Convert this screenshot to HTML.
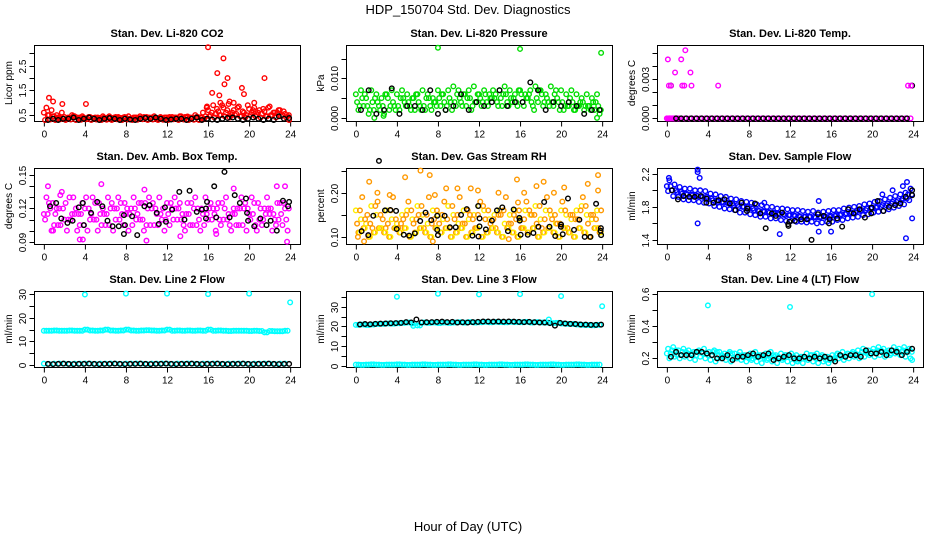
<!DOCTYPE html>
<html><head><meta charset="utf-8">
<style>
html,body{margin:0;padding:0;background:#fff;}
svg{display:block;font-family:"Liberation Sans",Arial,sans-serif;}
</style></head>
<body>
<svg id="chart" width="936" height="540" viewBox="0 0 936 540" xmlns="http://www.w3.org/2000/svg">
<rect x="0" y="0" width="936" height="540" fill="#fff"/>
<text x="468" y="14" font-size="13" text-anchor="middle">HDP_150704  Std. Dev. Diagnostics</text>
<text x="468" y="531" font-size="13" text-anchor="middle">Hour of Day (UTC)</text>
<g id="panels"></g>
</svg>
<script>
// ---------- data ----------
const co2RedA=[0.6,0.5,0.45,0.4,0.42,0.38,0.45,0.4,0.37,0.42,0.4,0.38,0.36,0.4,0.42,0.38,0.4,0.36,0.4,0.38,0.42,0.4,0.36,0.38,0.4,0.42,0.38,0.4,0.44,0.4,0.42,0.6,0.7,0.9,0.65,0.8,0.95,0.7,0.85,0.6,0.75,0.8,0.7,0.65,0.85,0.6,0.7,0.55];
const co2RedB=[0.8,0.7,0.5,0.6,0.35,0.5,0.4,0.45,0.35,0.38,0.4,0.45,0.4,0.35,0.42,0.4,0.45,0.4,0.38,0.42,0.4,0.45,0.38,0.4,0.42,0.4,0.45,0.42,0.4,0.5,0.4,0.45,0.5,0.55,0.5,0.6,0.5,0.55,0.45,0.5,0.6,0.5,0.55,0.45,0.5,0.6,0.5,0.45];
const co2RedC=[0.3,0.32,0.3,0.33,0.3,0.32,0.3,0.31,0.33,0.3,0.32,0.3,0.31,0.3,0.33,0.3,0.32,0.3,0.31,0.33,0.3,0.32,0.3,0.31,0.3,0.33,0.3,0.32,0.3,0.31,0.3,0.35,0.45,0.4,0.5,0.45,0.4,0.5,0.45,0.4,0.5,0.45,0.4,0.45,0.5,0.4,0.45,0.4];
const co2RedD=[0.5,0.45,0.4,0.35,0.4,0.45,0.35,0.4,0.42,0.38,0.35,0.4,0.45,0.4,0.38,0.42,0.35,0.4,0.45,0.4,0.35,0.38,0.42,0.4,0.35,0.4,0.45,0.4,0.38,0.42,0.4,0.8,0.6,0.75,0.9,0.7,0.6,0.8,0.65,0.9,0.7,0.6,0.75,0.8,0.6,0.7,0.65,0.5];
const co2OutHours=[0.5,0.9,1.8,4.1,15.9,16,16.4,16.9,17.1,17.5,17.6,17.9,18.5,19.3,19.5,21.5,20.5,17.2,18.1,23.9];
const co2OutVals=[1.2,1.05,0.95,0.95,0.85,3.25,1.4,2.2,1.3,2.8,1.75,2.0,1.0,1.6,1.35,2.0,1.0,1.0,1.05,0.3];
const co2Black=[0.3,0.35,0.3,0.35,0.35,0.4,0.3,0.35,0.4,0.35,0.3,0.35,0.38,0.35,0.3,0.35,0.32,0.3,0.35,0.38,0.35,0.4,0.35,0.3,0.32,0.35,0.35,0.3,0.35,0.4,0.3,0.35,0.32,0.3,0.35,0.38,0.4,0.35,0.3,0.35,0.4,0.35,0.3,0.35,0.3,0.45,0.35,0.38];
const presGreenA=[0.006,0.007,0.005,0.007,0.006,0.005,0.006,0.007,0.006,0.007,0.006,0.005,0.006,0.007,0.006,0.005,0.007,0.006,0.007,0.008,0.007,0.006,0.007,0.008,0.006,0.007,0.006,0.005,0.007,0.008,0.007,0.006,0.007,0.006,0.007,0.008,0.007,0.006,0.008,0.007,0.007,0.006,0.007,0.006,0.005,0.006,0.005,0.006];
const presGreenB=[0.002,0.003,0.001,0.002,0.003,0.001,0.002,0.003,0.002,0.004,0.003,0.002,0.003,0.002,0.003,0.004,0.003,0.002,0.004,0.003,0.004,0.003,0.002,0.004,0.003,0.004,0.005,0.004,0.003,0.004,0.004,0.003,0.004,0.005,0.003,0.004,0.003,0.004,0.003,0.004,0.002,0.003,0.002,0.003,0.002,0.003,0.002,0.001];
const presGreenC=[0.004,0.005,0.003,0.004,0.004,0.003,0.005,0.004,0.003,0.005,0.004,0.005,0.004,0.003,0.005,0.004,0.005,0.004,0.005,0.004,0.005,0.006,0.005,0.004,0.005,0.006,0.005,0.006,0.005,0.006,0.005,0.004,0.006,0.005,0.004,0.005,0.006,0.005,0.004,0.005,0.004,0.003,0.004,0.003,0.004,0.003,0.004,0.003];
const presGreenD=[0.003,0.006,0.002,0.005,0.002,0.006,0.003,0.002,0.005,0.003,0.002,0.006,0.002,0.005,0.002,0.003,0.006,0.003,0.002,0.006,0.003,0.005,0.003,0.006,0.004,0.003,0.007,0.003,0.006,0.003,0.005,0.007,0.003,0.006,0.002,0.007,0.004,0.003,0.006,0.002,0.003,0.005,0.002,0.004,0.003,0.002,0.004,0.002];
const presOutHours=[8,16,23.9,23.5,1.8,2.7];
const presOutVals=[0.0178,0.0175,0.0165,0.0,0.0,0.0005];
const presBlack=[0.002,0.007,0.001,0.002,0.0075,0.001,0.003,0.003,0.002,0.007,0.001,0.002,0.003,0.006,0.002,0.004,0.003,0.004,0.007,0.003,0.004,0.004,0.009,0.007,0.002,0.004,0.003,0.004,0.003,0.001,0.002,0.002];
const tempMagHours=[0.1,0.2,0.4,0.8,1.4,1.5,1.7,1.8,2.3,2.4,5.0,23.5,23.8];
const tempMagVals=[0.0045,0.0025,0.0025,0.0035,0.0045,0.0025,0.0025,0.0052,0.0035,0.0025,0.0025,0.0025,0.0025];
const tempMagZero=[0,0,0,0,0,0,0,0,0,0];
const tempBlack=[0.0025,0,0,0,0,0,0,0,0,0,0,0,0,0,0,0,0,0,0,0,0,0,0,0,0,0,0,0,0,0,0,0,0,0,0,0,0,0,0,0,0,0,0,0,0,0,0,0.0025];
const ambMagA=[0.115,0.125,0.105,0.12,0.11,0.13,0.115,0.105,0.12,0.11,0.125,0.115,0.105,0.12,0.11,0.125,0.115,0.12,0.11,0.125,0.105,0.12,0.115,0.11,0.125,0.12,0.11,0.115,0.125,0.105,0.12,0.115,0.11,0.12,0.125,0.11,0.115,0.12,0.105,0.12,0.115,0.125,0.11,0.12,0.115,0.11,0.125,0.12];
const ambMagB=[0.13,0.1,0.12,0.135,0.1,0.115,0.1,0.125,0.1,0.13,0.1,0.12,0.13,0.1,0.13,0.105,0.1,0.13,0.125,0.1,0.13,0.105,0.13,0.1,0.105,0.13,0.125,0.1,0.105,0.13,0.1,0.13,0.125,0.1,0.105,0.13,0.1,0.105,0.13,0.1,0.13,0.1,0.105,0.13,0.1,0.125,0.105,0.1];
const ambMagC=[0.11,0.12,0.115,0.105,0.125,0.11,0.12,0.115,0.13,0.115,0.11,0.105,0.115,0.125,0.12,0.115,0.12,0.105,0.115,0.11,0.12,0.125,0.105,0.12,0.115,0.11,0.12,0.105,0.115,0.12,0.11,0.105,0.12,0.115,0.11,0.12,0.105,0.115,0.12,0.125,0.11,0.105,0.12,0.115,0.12,0.105,0.115,0.11];
const ambOutHours=[0.4,5.6,1.6,3.5,3.8,10,13.3,16.8,22.7,23.5,23.7,18.5,0.9,9.8];
const ambOutVals=[0.14,0.142,0.132,0.092,0.092,0.091,0.095,0.097,0.14,0.14,0.09,0.138,0.1,0.137];
const ambBlackHours=[0.6,1.2,1.7,2.3,2.8,3.4,3.8,3.9,4.6,5.2,5.7,6.2,6.7,7.3,7.8,7.9,7.8,8.6,9.1,9.8,10.3,11,11.2,11.9,11.8,12.5,13.2,13.7,14.2,14.9,15.4,15.8,15.8,15.9,16.6,16.8,17.6,18.1,18.6,19.1,19.7,19.8,19.9,20.5,21.1,21.7,22.1,22.7,23.3,23.8,23.9];
const ambBlackVals=[0.122,0.125,0.111,0.107,0.109,0.121,0.125,0.105,0.116,0.126,0.122,0.109,0.104,0.104,0.114,0.105,0.097,0.113,0.096,0.122,0.123,0.116,0.106,0.108,0.121,0.119,0.135,0.11,0.136,0.117,0.119,0.12,0.111,0.126,0.14,0.112,0.153,0.112,0.132,0.125,0.129,0.116,0.109,0.104,0.111,0.105,0.109,0.1,0.127,0.122,0.126];
const rhOrgA=[0.16,0.14,0.13,0.17,0.15,0.12,0.16,0.14,0.13,0.15,0.16,0.14,0.17,0.15,0.13,0.16,0.15,0.14,0.17,0.15,0.13,0.16,0.14,0.15,0.17,0.16,0.14,0.15,0.16,0.13,0.15,0.16,0.14,0.16,0.15,0.17,0.14,0.16,0.15,0.13,0.16,0.15,0.14,0.16,0.17,0.15,0.14,0.16];
const rhOrgB=[0.11,0.12,0.1,0.11,0.12,0.11,0.1,0.12,0.11,0.12,0.1,0.11,0.12,0.11,0.1,0.12,0.11,0.12,0.1,0.11,0.12,0.1,0.11,0.12,0.1,0.11,0.12,0.11,0.1,0.12,0.11,0.1,0.12,0.11,0.12,0.1,0.11,0.12,0.11,0.1,0.12,0.11,0.1,0.12,0.11,0.1,0.12,0.11];
const rhOrgC=[0.13,0.19,0.15,0.12,0.18,0.14,0.13,0.19,0.12,0.14,0.18,0.13,0.15,0.12,0.19,0.14,0.13,0.18,0.12,0.14,0.19,0.13,0.15,0.12,0.18,0.14,0.13,0.12,0.15,0.19,0.13,0.14,0.12,0.18,0.15,0.13,0.12,0.19,0.14,0.13,0.18,0.12,0.15,0.14,0.19,0.13,0.15,0.12];
const rhOutHours=[1.3,2.1,3.3,4.8,6.3,7.2,7.7,8.8,9.9,11.2,11.9,13.9,14.9,15.7,15.8,16.4,17.6,18.3,19.3,20.3,22.6,23.6,23.6,0.2,7.5,0.8];
const rhOutVals=[0.225,0.2,0.195,0.235,0.25,0.24,0.195,0.21,0.21,0.21,0.205,0.2,0.095,0.23,0.178,0.2,0.215,0.225,0.2,0.212,0.22,0.24,0.205,0.1,0.09,0.09];
const rhBlackHours=[0.56,1.21,1.7,2.25,2.84,3.36,3.92,3.98,4.67,5.19,5.75,6.27,6.79,7.35,7.93,7.93,8.0,8.65,9.17,9.73,10.25,10.81,11.36,11.92,11.95,12.05,12.05,12.67,13.26,13.75,14.27,14.82,15.38,15.93,15.97,16.06,16.75,17.3,17.79,18.35,18.87,19.43,19.98,20.0,20.16,20.67,21.26,21.78,22.3,22.86,23.41,23.85,23.88,23.9];
const rhBlackVals=[0.113,0.104,0.148,0.272,0.16,0.161,0.159,0.118,0.105,0.103,0.108,0.136,0.155,0.138,0.116,0.148,0.104,0.148,0.122,0.122,0.15,0.163,0.103,0.17,0.101,0.142,0.124,0.117,0.137,0.16,0.167,0.113,0.162,0.143,0.137,0.105,0.105,0.109,0.123,0.179,0.123,0.102,0.123,0.128,0.106,0.187,0.116,0.139,0.1,0.1,0.175,0.114,0.12,0.104];
const sfBlueA=[2.05,2.0,1.98,1.96,1.95,1.94,1.93,1.92,1.9,1.88,1.86,1.85,1.84,1.82,1.8,1.8,1.78,1.76,1.75,1.74,1.73,1.72,1.71,1.7,1.7,1.69,1.68,1.68,1.68,1.67,1.68,1.68,1.69,1.7,1.71,1.72,1.73,1.75,1.76,1.78,1.79,1.8,1.82,1.84,1.86,1.88,1.9,1.95];
const sfBlueB=[2.12,2.07,2.04,2.02,2.02,2.0,2.0,1.99,1.96,1.95,1.93,1.92,1.9,1.89,1.87,1.86,1.85,1.83,1.82,1.8,1.8,1.78,1.78,1.77,1.76,1.76,1.75,1.74,1.75,1.73,1.74,1.75,1.76,1.76,1.78,1.79,1.8,1.81,1.83,1.84,1.86,1.87,1.89,1.91,1.93,1.95,1.97,2.02];
const sfBlueC=[1.99,1.93,1.92,1.89,1.88,1.88,1.86,1.85,1.84,1.81,1.8,1.78,1.77,1.76,1.73,1.73,1.71,1.7,1.68,1.68,1.66,1.66,1.64,1.63,1.63,1.62,1.62,1.61,1.62,1.6,1.61,1.62,1.62,1.64,1.64,1.66,1.67,1.68,1.7,1.71,1.73,1.74,1.75,1.77,1.79,1.81,1.83,1.88];
const sfOutHours=[3.0,3.0,3.2,3.0,9.5,11,14.8,14.8,16,21,22,23,23.4,23.3,23.9,0.2];
const sfOutVals=[2.25,2.22,2.15,1.6,1.85,1.47,1.5,1.87,1.5,1.95,2.0,2.05,2.1,1.42,1.66,2.15];
const sfBlackHours=[0.49,1.08,1.63,2.19,2.71,3.3,3.85,3.85,4.54,5.03,5.62,6.14,6.69,7.28,7.8,7.84,8.59,9.11,9.63,10.22,10.61,11.23,11.82,11.85,11.95,12.47,13.09,13.65,14.1,14.72,15.28,15.8,15.87,16.59,17.08,17.67,18.19,18.78,19.3,19.92,19.95,20.54,21.09,21.65,22.24,22.76,23.28,23.9,23.9];
const sfBlackVals=[2.0,1.89,1.93,1.92,1.92,1.93,1.9,1.85,1.85,1.88,1.89,1.84,1.76,1.85,1.75,1.78,1.84,1.72,1.54,1.72,1.69,1.73,1.59,1.57,1.62,1.63,1.65,1.65,1.4,1.71,1.69,1.6,1.65,1.66,1.56,1.77,1.72,1.77,1.67,1.72,1.79,1.87,1.75,1.8,1.82,1.84,1.92,2.0,1.94];
const l2CyanHigh=[14.5,14.5,14.6,14.5,14.5,14.6,14.5,14.5,15,14.6,14.5,14.6,15,14.6,14.5,14.6,15,14.6,14.5,14.6,14.7,14.6,14.5,14.6,15,14.5,14.6,14.5,14.6,14.5,14.6,14.5,15,14.5,14.6,14.5,14.4,14.5,14.5,14.5,14.4,14.5,14.4,13.8,14.4,14.3,14.3,14.5];
const l2CyanLow=[0.6,0.5,0.6,0.7,0.6,0.5,0.6,0.6,0.7,0.6,0.5,0.6,0.6,0.7,0.6,0.5,0.6,0.6,0.7,0.6,0.5,0.6,0.6,0.7,0.6,0.5,0.6,0.6,0.7,0.6,0.5,0.6,0.6,0.7,0.6,0.5,0.6,0.6,0.7,0.6,0.5,0.6,0.6,0.7,0.6,0.5,0.6,0.6];
const l2Black=[0.5,0.4,0.5,0.6,0.5,0.4,0.5,0.5,0.6,0.5,0.4,0.5,0.5,0.6,0.5,0.4,0.5,0.5,0.6,0.5,0.4,0.5,0.5,0.6,0.5,0.4,0.5,0.5,0.6,0.5,0.4,0.5,0.5,0.6,0.5,0.4,0.5,0.5,0.6,0.5,0.4,0.5,0.5,0.6,0.5,0.4,0.5,0.5];
const l2OutHours=[4,8,12,16,20,24];
const l2OutVals=[29.8,30.2,30.2,30,30.2,26.5];
const l3CyanHigh=[20.8,21,20.7,21,21.2,21.3,21.5,21.4,21.6,21.8,22,21.5,20.5,22,21.8,22,21.7,22,21.8,22,22.1,21.9,22.2,22,22.1,22.3,22.1,22.3,22.2,22.1,22.3,22.2,22.1,22.3,22,22.2,22,21.9,21.7,21.8,21.5,21.3,21.2,21,20.8,20.7,20.6,20.8];
const l3CyanLow=[0.7,0.6,0.7,0.8,0.7,0.6,0.7,0.7,0.8,0.7,0.6,0.7,0.7,0.8,0.7,0.6,0.7,0.7,0.8,0.7,0.6,0.7,0.7,0.8,0.7,0.6,0.7,0.7,0.8,0.7,0.6,0.7,0.7,0.8,0.7,0.6,0.7,0.7,0.8,0.7,0.6,0.7,0.7,0.8,0.7,0.6,0.7,0.7];
const l3Black=[21,21.2,21.1,21.3,21.4,21.5,21.6,21.7,21.8,22.2,22,23.5,22,22.1,22.2,22.3,22.4,22.2,22.3,22,22.1,22,22.2,22.3,22.5,22.5,22.4,22.5,22.4,22.5,22.4,22.3,22.2,22.3,22.1,22,22,21.7,20.4,21.8,21.5,21.3,21.2,21,20.9,20.8,20.8,20.9];
const l3OutHours=[4,8,12,16,20,24,18.8,5.6];
const l3OutVals=[35,36.5,36.2,36.3,35.3,30.2,23.5,20.3];
const l4CyanA=[0.23,0.25,0.22,0.24,0.23,0.22,0.24,0.23,0.22,0.24,0.22,0.21,0.23,0.2,0.22,0.21,0.2,0.22,0.21,0.2,0.22,0.21,0.2,0.22,0.21,0.19,0.21,0.2,0.22,0.2,0.21,0.19,0.2,0.22,0.21,0.22,0.23,0.22,0.24,0.23,0.24,0.25,0.24,0.23,0.25,0.24,0.25,0.24];
const l4CyanB=[0.2,0.21,0.2,0.21,0.2,0.19,0.21,0.2,0.19,0.18,0.2,0.19,0.18,0.2,0.19,0.18,0.19,0.18,0.17,0.19,0.18,0.17,0.19,0.18,0.17,0.18,0.17,0.19,0.18,0.17,0.18,0.17,0.19,0.2,0.19,0.2,0.21,0.2,0.21,0.22,0.21,0.22,0.21,0.22,0.23,0.22,0.21,0.2];
const l4CyanC=[0.26,0.27,0.25,0.26,0.25,0.24,0.25,0.26,0.24,0.25,0.24,0.23,0.24,0.23,0.24,0.22,0.23,0.24,0.22,0.23,0.24,0.22,0.23,0.22,0.23,0.22,0.21,0.23,0.22,0.23,0.22,0.21,0.22,0.23,0.24,0.23,0.24,0.25,0.26,0.25,0.26,0.27,0.26,0.25,0.27,0.26,0.27,0.26];
const l4Black=[0.21,0.24,0.22,0.22,0.22,0.24,0.24,0.23,0.22,0.2,0.2,0.22,0.19,0.21,0.21,0.22,0.23,0.21,0.22,0.23,0.19,0.2,0.21,0.22,0.2,0.2,0.21,0.2,0.21,0.2,0.21,0.2,0.18,0.22,0.21,0.22,0.22,0.21,0.25,0.23,0.23,0.24,0.22,0.25,0.24,0.22,0.24,0.26];
const l4OutHours=[4,12,20,23.9];
const l4OutVals=[0.53,0.52,0.6,0.19];
const hourTicks=[0,4,8,12,16,20,24];
const co2Ticks=[0.5,1,1.5,2,2.5,3], co2Labels=["0.5","","1.5","","2.5",""];
const presTicks=[0,0.005,0.01,0.015], presLabels=["0.000","","0.010",""];
const tempTicks=[0,0.001,0.002,0.003,0.004,0.005], tempLabels=["0.000","","","0.003","",""];
const ambTicks=[0.09,0.1,0.11,0.12,0.13,0.14,0.15], ambLabels=["0.09","","","0.12","","","0.15"];
const rhTicks=[0.1,0.15,0.2,0.25], rhLabels=["0.10","","0.20",""];
const sfTicks=[1.4,1.6,1.8,2.0,2.2], sfLabels=["1.4","","1.8","","2.2"];
const l2Ticks=[0,5,10,15,20,25,30], l2Labels=["0","","10","","20","","30"];
const l3Ticks=[0,5,10,15,20,25,30,35], l3Labels=["0","","10","","20","","30",""];
const l4Ticks=[0.2,0.3,0.4,0.5,0.6], l4Labels=["0.2","","0.4","","0.6"];

// ---------- drawing ----------
const NS="http://www.w3.org/2000/svg";
const root=document.getElementById('panels');
function mk(tag,attrs,parent){const e=document.createElementNS(NS,tag);for(const k in attrs)e.setAttribute(k,attrs[k]);parent.appendChild(e);return e;}
const colX=[34,346,657], rowY=[45,168,291];
const W=266, H=76;
function panel(col,row,title,ylab,yMin,yMax,ticks,labels,name){
  const g=mk('g',{},root);
  
  
  const L=colX[col],T=rowY[row];
  const xs=h=>L+(h+0.96)/25.92*W;
  const ys=v=>T+H-(v-yMin)/(yMax-yMin)*H;
  const box=mk('rect',{x:L+.5,y:T+.5,width:W,height:H,fill:'none',stroke:'#000','stroke-width':1},g);
  
  
  const t=mk('text',{x:L+W/2,y:T-8,'font-size':11,'font-weight':'bold','text-anchor':'middle'},g);
  t.textContent=title;
  
  
  const yl=mk('text',{x:0,y:0,'font-size':10,'text-anchor':'middle',transform:`translate(${L-22},${T+H/2}) rotate(-90)`},g);
  yl.textContent=ylab;
  
  
  const xa=mk('g',{},g);
  
  
  const by=T+H+0.5;
  mk('line',{x1:xs(hourTicks[0]),x2:xs(hourTicks[hourTicks.length-1]),y1:by,y2:by,stroke:'#000'},xa);
  hourTicks.forEach(h=>{
    mk('line',{x1:xs(h)+.5,x2:xs(h)+.5,y1:by,y2:by+5,stroke:'#000'},xa);
    const tl=mk('text',{x:xs(h)+.5,y:by+16,'font-size':10,'text-anchor':'middle'},xa);
    tl.textContent=h;
  });
  const ya=mk('g',{},g);
  
  
  mk('line',{x1:L+.5,x2:L+.5,y1:ys(ticks[0]),y2:ys(ticks[ticks.length-1]),stroke:'#000'},ya);
  ticks.forEach((v,i)=>{
    const y=Math.round(ys(v))+.5;
    mk('line',{x1:L-4.5,x2:L+.5,y1:y,y2:y,stroke:'#000'},ya);
    if(labels[i]){
      const tl=mk('text',{x:0,y:0,'font-size':10,'text-anchor':'middle',transform:`translate(${L-8},${y}) rotate(-90)`},ya);
      tl.textContent=labels[i];
    }
  });
  const pts=mk('g',{fill:'none','stroke-width':1.4},g);
  
  
  return {
    pts:(hours,vals,color,series)=>{
      const s=mk('g',{stroke:color},pts);
      
      
      vals.forEach((v,i)=>{
        const c=mk('circle',{cx:xs(hours[i]),cy:ys(v),r:2.3},s);
        
        
      });
    }
  };
}
function evenHours(n,start,step){const a=[];for(let i=0;i<n;i++)a.push(start+i*step);return a;}
const hA=evenHours(48,0,0.5), hB=evenHours(48,0.25,0.5), hC=evenHours(48,0.12,0.5), hD=evenHours(48,0.37,0.5), hK=evenHours(48,0.4,0.5);

const RED='#ff0000',GREEN='#00dd00',MAG='#ff00ff',ORG='#ff9900',YEL='#ffee00',BLUE='#0000ff',CYAN='#00ffff',BLK='#000';

let p=panel(0,0,'Stan. Dev. Li-820 CO2','Licor ppm',0.26,3.34,co2Ticks,co2Labels,'co2');
p.pts(hA,co2RedA,RED,'red-a');p.pts(hB,co2RedB,RED,'red-b');p.pts(hC,co2RedC,RED,'red-c');p.pts(hD,co2RedD,RED,'red-d');p.pts(co2OutHours,co2OutVals,RED,'red-outliers');
p.pts(hK,co2Black,BLK,'black');

p=panel(1,0,'Stan. Dev. Li-820 Pressure','kPa',-0.0008,0.0185,presTicks,presLabels,'pressure');
p.pts(hA,presGreenA,GREEN,'green-a');p.pts(hB,presGreenB,GREEN,'green-b');p.pts(hC,presGreenC,GREEN,'green-c');p.pts(hD,presGreenD,GREEN,'green-d');p.pts(presOutHours,presOutVals,GREEN,'green-outliers');
p.pts(evenHours(presBlack.length,0.5,0.75),presBlack,BLK,'black');

p=panel(2,0,'Stan. Dev. Li-820 Temp.','degrees C',-0.0002,0.0056,tempTicks,tempLabels,'li820-temp');
p.pts(evenHours(tempMagZero.length,0,0.12),tempMagZero,MAG,'magenta-zero');
p.pts(hB,tempBlack.map(()=>0),MAG,'magenta-baseline');
p.pts(hK,tempBlack,BLK,'black');
p.pts(tempMagHours,tempMagVals,MAG,'magenta');

p=panel(0,1,'Stan. Dev. Amb. Box Temp.','degrees C',0.088,0.1565,ambTicks,ambLabels,'amb-temp');
p.pts(hA,ambMagA,MAG,'magenta-a');p.pts(hB,ambMagB,MAG,'magenta-b');p.pts(hC,ambMagC,MAG,'magenta-c');p.pts(hD,ambMagA,MAG,'magenta-d');p.pts(ambOutHours,ambOutVals,MAG,'magenta-outliers');
p.pts(ambBlackHours,ambBlackVals,BLK,'black');

p=panel(1,1,'Stan. Dev. Gas Stream RH','percent',0.084,0.256,rhTicks,rhLabels,'gas-rh');
p.pts(hA,rhOrgA,YEL,'yellow-a');p.pts(hB,rhOrgB,ORG,'orange-b');p.pts(hC,rhOrgC,ORG,'orange-c');p.pts(hK,rhOrgA,ORG,'orange-a');p.pts(hD,rhOrgB,YEL,'yellow-b');p.pts(rhOutHours,rhOutVals,ORG,'orange-outliers');
p.pts(rhBlackHours,rhBlackVals,BLK,'black');

p=panel(2,1,'Stan. Dev. Sample Flow','ml/min',1.35,2.27,sfTicks,sfLabels,'sample-flow');
p.pts(hA,sfBlueA,BLUE,'blue-a');p.pts(hB,sfBlueB,BLUE,'blue-b');p.pts(hC,sfBlueC,BLUE,'blue-c');p.pts(hD,sfBlueA,BLUE,'blue-d');p.pts(sfOutHours,sfOutVals,BLUE,'blue-outliers');
p.pts(sfBlackHours,sfBlackVals,BLK,'black');

p=panel(0,2,'Stan. Dev. Line 2 Flow','ml/min',-0.8,31.3,l2Ticks,l2Labels,'line2-flow');
p.pts(hA,l2CyanHigh,CYAN,'cyan-high-a');p.pts(hB,l2CyanHigh,CYAN,'cyan-high-b');p.pts(hA,l2CyanLow,CYAN,'cyan-low');p.pts(l2OutHours,l2OutVals,CYAN,'cyan-outliers');
p.pts(hK,l2Black,BLK,'black');

p=panel(1,2,'Stan. Dev. Line 3 Flow','ml/min',-0.5,37.9,l3Ticks,l3Labels,'line3-flow');
p.pts(hA,l3CyanHigh,CYAN,'cyan-high-a');p.pts(hB,l3CyanHigh,CYAN,'cyan-high-b');p.pts(hK,l3Black,BLK,'black');
p.pts(hA,l3CyanLow,CYAN,'cyan-low-a');p.pts(hB,l3CyanLow,CYAN,'cyan-low-b');p.pts(l3OutHours,l3OutVals,CYAN,'cyan-outliers');

p=panel(2,2,'Stan. Dev. Line 4 (LT) Flow','ml/min',0.146,0.62,l4Ticks,l4Labels,'line4-flow');
p.pts(hA,l4CyanA,CYAN,'cyan-a');p.pts(hB,l4CyanB,CYAN,'cyan-b');p.pts(hC,l4CyanC,CYAN,'cyan-c');p.pts(hD,l4CyanA,CYAN,'cyan-d');p.pts(l4OutHours,l4OutVals,CYAN,'cyan-outliers');
p.pts(hK,l4Black,BLK,'black');
</script>
</body></html>
